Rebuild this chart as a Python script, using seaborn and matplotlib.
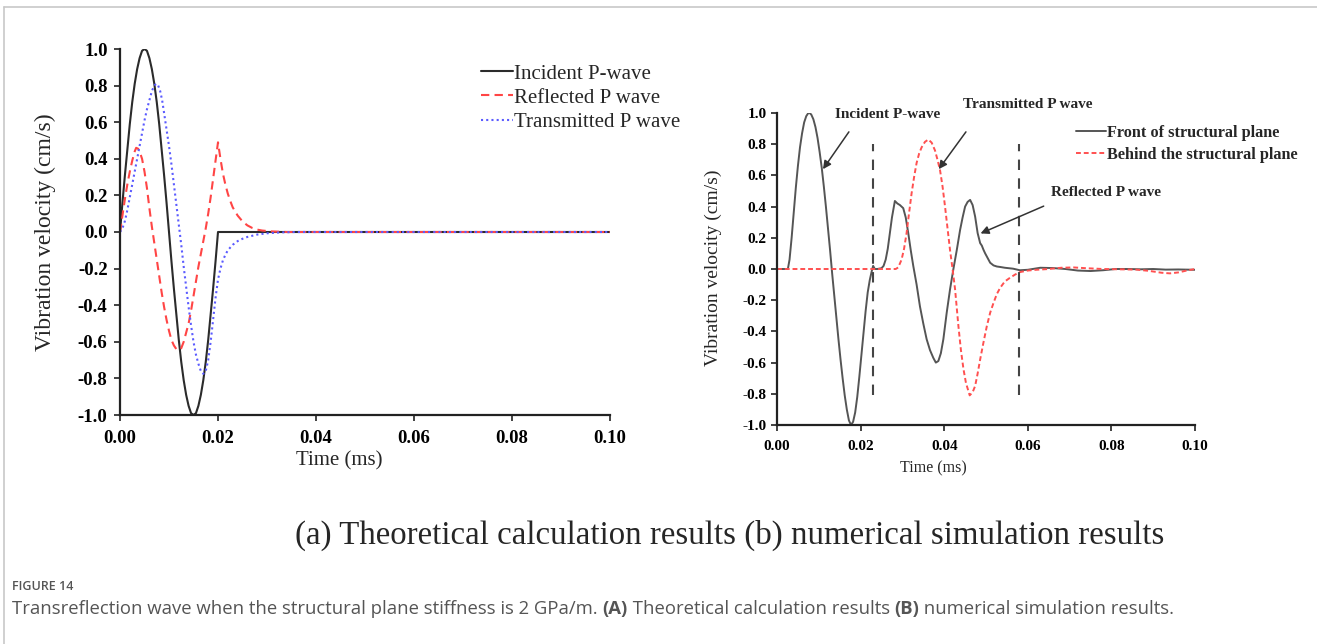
import matplotlib
matplotlib.use("Agg")
import matplotlib.pyplot as plt
from matplotlib.ticker import FormatStrFormatter
from matplotlib.lines import Line2D
import seaborn as sns
import pandas as pd

# ---------------- data: (a) theoretical calculation (time ms, velocity cm/s) ----------------
incident_pts = [
    (0.0, 0.0), (0.0005, 0.16), (0.001, 0.31), (0.0015, 0.45), (0.002, 0.59),
    (0.0025, 0.71), (0.003, 0.81), (0.0035, 0.89), (0.004, 0.95), (0.0045, 0.99),
    (0.005, 1.0), (0.0055, 0.99), (0.006, 0.95), (0.0065, 0.89), (0.007, 0.81),
    (0.0075, 0.71), (0.008, 0.59), (0.0085, 0.45), (0.009, 0.31), (0.0095, 0.16),
    (0.010, 0.0), (0.0105, -0.16), (0.011, -0.31), (0.0115, -0.45), (0.012, -0.59),
    (0.0125, -0.71), (0.013, -0.81), (0.0135, -0.89), (0.014, -0.95), (0.0145, -0.99),
    (0.015, -1.0), (0.0155, -0.99), (0.016, -0.95), (0.0165, -0.89), (0.017, -0.81),
    (0.0175, -0.71), (0.018, -0.59), (0.0185, -0.45), (0.019, -0.31), (0.0195, -0.16),
    (0.020, 0.0), (0.100, 0.0)]

reflected_pts = [
    (0.0, 0.0), (0.0005, 0.09), (0.001, 0.18), (0.0015, 0.26), (0.002, 0.33),
    (0.0025, 0.39), (0.003, 0.44), (0.0033, 0.46), (0.0037, 0.455), (0.004, 0.44),
    (0.0045, 0.40), (0.005, 0.33), (0.0055, 0.24), (0.006, 0.13), (0.0065, 0.03),
    (0.007, -0.06), (0.0075, -0.15), (0.008, -0.24), (0.0085, -0.33), (0.009, -0.41),
    (0.0095, -0.48), (0.010, -0.54), (0.0105, -0.59), (0.011, -0.62), (0.0115, -0.64),
    (0.0121, -0.645), (0.0125, -0.635), (0.013, -0.60), (0.0135, -0.55), (0.014, -0.50),
    (0.0145, -0.43), (0.015, -0.35), (0.0155, -0.27), (0.016, -0.19), (0.0165, -0.12),
    (0.017, -0.05), (0.0175, 0.02), (0.018, 0.10), (0.0185, 0.19), (0.019, 0.29),
    (0.0195, 0.39), (0.020, 0.49), (0.0205, 0.40), (0.021, 0.32), (0.0215, 0.26),
    (0.022, 0.21), (0.0225, 0.17), (0.023, 0.135), (0.024, 0.09), (0.025, 0.058),
    (0.026, 0.036), (0.027, 0.022), (0.028, 0.013), (0.029, 0.008), (0.031, 0.003),
    (0.034, 0.0), (0.100, 0.0)]

transmitted_pts = [
    (0.0, 0.0), (0.0005, 0.02), (0.001, 0.06), (0.0015, 0.12), (0.002, 0.19),
    (0.0025, 0.26), (0.003, 0.33), (0.0035, 0.40), (0.004, 0.47), (0.0045, 0.54),
    (0.005, 0.61), (0.0055, 0.67), (0.006, 0.72), (0.0065, 0.77), (0.007, 0.80),
    (0.0074, 0.81), (0.0078, 0.80), (0.0082, 0.77), (0.0086, 0.72), (0.009, 0.65),
    (0.0095, 0.56), (0.010, 0.47), (0.0105, 0.37), (0.011, 0.26), (0.0115, 0.15),
    (0.012, 0.04), (0.0125, -0.07), (0.013, -0.19), (0.0135, -0.30), (0.014, -0.41),
    (0.0145, -0.51), (0.015, -0.60), (0.0155, -0.67), (0.016, -0.72), (0.0165, -0.76),
    (0.017, -0.775), (0.0175, -0.76), (0.018, -0.70), (0.0185, -0.60), (0.019, -0.48),
    (0.0195, -0.36), (0.020, -0.26), (0.0205, -0.20), (0.021, -0.155), (0.0215, -0.125),
    (0.022, -0.10), (0.023, -0.07), (0.024, -0.05), (0.025, -0.037), (0.026, -0.027),
    (0.028, -0.014), (0.030, -0.007), (0.033, -0.002), (0.036, 0.0), (0.100, 0.0)]

# ---------------- data: (b) numerical simulation ----------------
front_pts = [
    (0.0, 0.0), (0.0026, 0.0), (0.003, 0.06), (0.0035, 0.20), (0.004, 0.36),
    (0.0045, 0.52), (0.005, 0.66), (0.0055, 0.78), (0.006, 0.87), (0.0065, 0.94),
    (0.007, 0.98), (0.0075, 1.0), (0.0078, 1.0), (0.0082, 0.99), (0.0087, 0.96),
    (0.0092, 0.91), (0.0097, 0.84), (0.0102, 0.75), (0.0107, 0.65), (0.0112, 0.53),
    (0.0117, 0.40), (0.0122, 0.26), (0.0127, 0.12), (0.0132, -0.03), (0.0137, -0.17),
    (0.0142, -0.31), (0.0147, -0.45), (0.0152, -0.58), (0.0157, -0.70), (0.0162, -0.81),
    (0.0167, -0.90), (0.0172, -0.97), (0.0177, -1.0), (0.0182, -0.98), (0.0187, -0.92),
    (0.0192, -0.82), (0.0197, -0.69), (0.0202, -0.55), (0.0207, -0.41), (0.0212, -0.27),
    (0.0217, -0.15), (0.0222, -0.07), (0.0227, -0.01), (0.023, 0.02), (0.0234, 0.0),
    (0.024, 0.0), (0.025, 0.005), (0.0255, 0.02), (0.026, 0.06), (0.0265, 0.13),
    (0.027, 0.23), (0.0275, 0.33), (0.0282, 0.436), (0.0288, 0.42), (0.0294, 0.41),
    (0.0302, 0.39), (0.0308, 0.33), (0.0314, 0.23), (0.032, 0.12), (0.0326, 0.02),
    (0.0334, -0.10), (0.0342, -0.24), (0.035, -0.35), (0.0358, -0.45), (0.0366, -0.52),
    (0.0374, -0.57), (0.038, -0.60), (0.0386, -0.59), (0.0392, -0.54), (0.0398, -0.45),
    (0.0406, -0.28), (0.0414, -0.13), (0.0422, 0.0), (0.043, 0.12), (0.0438, 0.25),
    (0.0444, 0.33), (0.045, 0.40), (0.0456, 0.43), (0.0462, 0.443), (0.0468, 0.41),
    (0.0474, 0.336), (0.048, 0.23), (0.0486, 0.166), (0.049, 0.15), (0.0494, 0.123),
    (0.0498, 0.10), (0.0502, 0.08), (0.0506, 0.06), (0.051, 0.04), (0.0518, 0.023),
    (0.0526, 0.016), (0.0534, 0.013), (0.0545, 0.008), (0.0565, 0.002), (0.0581, -0.008),
    (0.060, -0.005), (0.063, 0.008), (0.066, 0.006), (0.069, 0.0), (0.072, -0.01),
    (0.075, -0.013), (0.078, -0.008), (0.081, 0.0), (0.084, 0.0), (0.087, -0.002),
    (0.090, 0.0), (0.093, -0.004), (0.096, -0.003), (0.100, -0.005)]

behind_pts = [
    (0.0, 0.0), (0.0284, 0.0), (0.029, 0.01), (0.0298, 0.06), (0.0304, 0.13),
    (0.031, 0.23), (0.0316, 0.36), (0.0322, 0.485), (0.0328, 0.59), (0.0334, 0.68),
    (0.034, 0.74), (0.0346, 0.78), (0.0354, 0.815), (0.0362, 0.83), (0.037, 0.81),
    (0.0378, 0.76), (0.0384, 0.70), (0.039, 0.634), (0.0396, 0.53), (0.0402, 0.40),
    (0.0408, 0.26), (0.0414, 0.12), (0.042, 0.0), (0.0426, -0.13), (0.0434, -0.366),
    (0.044, -0.52), (0.0446, -0.64), (0.0452, -0.73), (0.0461, -0.81), (0.0468, -0.79),
    (0.0474, -0.75), (0.048, -0.67), (0.0486, -0.58), (0.0494, -0.47), (0.0502, -0.366),
    (0.051, -0.28), (0.0518, -0.217), (0.0526, -0.16), (0.0534, -0.12), (0.0545, -0.08),
    (0.0557, -0.057), (0.057, -0.035), (0.0581, -0.02), (0.060, -0.01), (0.062, -0.005),
    (0.065, 0.0), (0.068, 0.008), (0.071, 0.01), (0.074, 0.005), (0.078, 0.0),
    (0.082, -0.002), (0.086, -0.004), (0.089, -0.012), (0.092, -0.024), (0.094, -0.028),
    (0.096, -0.022), (0.098, -0.01), (0.100, 0.0)]

marker_lines = [0.023, 0.0578]

left_legend = ["Incident P-wave", "Reflected P wave", "Transmitted P wave"]
right_legend = ["Front of structural plane", "Behind the structural plane"]
x_ticks = [0.00, 0.02, 0.04, 0.06, 0.08, 0.10]
y_ticks = [-1.0, -0.8, -0.6, -0.4, -0.2, 0.0, 0.2, 0.4, 0.6, 0.8, 1.0]


def to_df(pts):
    return pd.DataFrame(pts, columns=["t", "v"])


# ---------------- style ----------------
sns.set_style("ticks")
plt.rcParams["font.family"] = ["Liberation Serif", "DejaVu Serif"]
plt.rcParams["axes.unicode_minus"] = False

W, H = 1317, 644
fig = plt.figure(figsize=(W / 100, H / 100), dpi=100)
fig.patch.set_facecolor("white")


def fx(px):
    return px / W


def fy(py):
    return 1 - py / H


def style_axes(ax, tick_size, xpad, ypad):
    for s in ["top", "right"]:
        ax.spines[s].set_visible(False)
    for s in ["left", "bottom"]:
        ax.spines[s].set_linewidth(1.6)
        ax.spines[s].set_color("#222222")
    ax.set_xlim(0, 0.10)
    ax.set_ylim(-1.0, 1.0)
    ax.set_xticks(x_ticks)
    ax.set_yticks(y_ticks)
    ax.xaxis.set_major_formatter(FormatStrFormatter("%.2f"))
    ax.yaxis.set_major_formatter(FormatStrFormatter("%.1f"))
    ax.tick_params(axis="both", direction="out", length=4, width=1.2,
                   colors="#222222", labelsize=tick_size)
    ax.tick_params(axis="x", pad=xpad)
    ax.tick_params(axis="y", pad=ypad)
    for lab in ax.get_xticklabels() + ax.get_yticklabels():
        lab.set_fontweight("bold")
        lab.set_color("black")
    ax.set_xlabel("")
    ax.set_ylabel("")
    ax.set_facecolor("white")


# ---------------- (a) left panel ----------------
axL = fig.add_axes([fx(120), fy(415), fx(490), (415 - 49) / H])
sns.lineplot(data=to_df(incident_pts), x="t", y="v", ax=axL, sort=False,
             estimator=None, color="#2b2b2b", linewidth=1.5)
sns.lineplot(data=to_df(reflected_pts), x="t", y="v", ax=axL, sort=False,
             estimator=None, color="#ff4545", linewidth=1.5, linestyle=(0, (4, 2.5)))
sns.lineplot(data=to_df(transmitted_pts), x="t", y="v", ax=axL, sort=False,
             estimator=None, color="#5b5bff", linewidth=1.5, linestyle=(0, (1, 1.5)))
style_axes(axL, 13.5, 6.5, 5)

handlesL = [Line2D([], [], color="#2b2b2b", lw=1.5),
            Line2D([], [], color="#ff4545", lw=1.5, ls=(0, (4, 2.5))),
            Line2D([], [], color="#5b5bff", lw=1.5, ls=(0, (1, 1.5)))]
fig.legend(handlesL, left_legend, loc="upper left",
           bbox_to_anchor=(fx(481), fy(64)), bbox_transform=fig.transFigure,
           frameon=False, fontsize=15, handlelength=1.55, handletextpad=0.05,
           labelspacing=0.22, borderpad=0, borderaxespad=0)

fig.text(fx(45), fy(232), "Vibration velocity (cm/s)", rotation=90,
         ha="center", va="center", fontsize=17)
fig.text(fx(339), fy(461), "Time (ms)", ha="center", va="center", fontsize=15)

# ---------------- (b) right panel ----------------
axR = fig.add_axes([fx(777), fy(425), fx(418), (425 - 113) / H])
sns.lineplot(data=to_df(front_pts), x="t", y="v", ax=axR, sort=False,
             estimator=None, color="#555555", linewidth=1.4)
sns.lineplot(data=to_df(behind_pts), x="t", y="v", ax=axR, sort=False,
             estimator=None, color="#ff5050", linewidth=1.4, linestyle=(0, (2.5, 1.5)))
for xm in marker_lines:
    axR.plot([xm, xm], [-0.81, 0.80], color="#444444", lw=1.5,
             linestyle=(0, (5, 4)))
style_axes(axR, 11, 6.5, 3.5)

arrow_kw = dict(arrowstyle="-|>", color="#333333", lw=1.1, mutation_scale=12,
                shrinkA=0, shrinkB=0)
axR.annotate("", xy=(0.011, 0.64), xytext=(0.0172, 0.879), arrowprops=arrow_kw)
axR.annotate("", xy=(0.0387, 0.64), xytext=(0.0452, 0.879), arrowprops=arrow_kw)
axR.annotate("", xy=(0.0487, 0.228), xytext=(0.0638, 0.403), arrowprops=arrow_kw)
axR.text(0.0265, 0.993, "Incident P-wave", ha="center", va="center",
         fontsize=11, fontweight="bold")
axR.text(0.060, 1.057, "Transmitted P wave", ha="center", va="center",
         fontsize=11, fontweight="bold")
axR.text(0.0787, 0.489, "Reflected P wave", ha="center", va="center",
         fontsize=11, fontweight="bold")

handlesR = [Line2D([], [], color="#555555", lw=1.4),
            Line2D([], [], color="#ff5050", lw=1.4, ls=(0, (2.5, 1.5)))]
fig.legend(handlesR, right_legend, loc="upper left",
           bbox_to_anchor=(fx(1076), fy(125)), bbox_transform=fig.transFigure,
           frameon=False, handlelength=1.85, handletextpad=0.05,
           labelspacing=0.35, borderpad=0, borderaxespad=0,
           prop={"weight": "bold", "size": 11.7})

fig.text(fx(713), fy(268), "Vibration velocity (cm/s)", rotation=90,
         ha="center", va="center", fontsize=14)
fig.text(fx(933), fy(468), "Time (ms)", ha="center", va="center", fontsize=11.5)

# ---------------- bottom texts ----------------
fig.text(fx(730), fy(535),
         "(a) Theoretical calculation results (b) numerical simulation results",
         ha="center", va="center", fontsize=23.7)
fig.text(fx(12), fy(587), "FIGURE 14", ha="left", va="center", fontsize=9,
         family=["Open Sans", "DejaVu Sans"], fontweight="semibold", color="#555555")

caption_parts = [("Transreflection wave when the structural plane stiffness is 2 GPa/m. ", "normal"),
                 ("(A)", "bold"),
                 (" Theoretical calculation results ", "normal"),
                 ("(B)", "bold"),
                 (" numerical simulation results.", "normal")]
fig.canvas.draw()
renderer = fig.canvas.get_renderer()
xpos = 12
for txt, wt in caption_parts:
    t = fig.text(fx(xpos), fy(609), txt, ha="left", va="center", fontsize=13.3,
                 family=["Open Sans", "DejaVu Sans"], fontweight=wt, color="#555555")
    bb = t.get_window_extent(renderer=renderer)
    xpos += bb.width

# frame lines
fig.add_artist(Line2D([fx(4), 1.0], [fy(7), fy(7)], color="#c8c8c8", lw=1.2))
fig.add_artist(Line2D([fx(4), fx(4)], [fy(7), 0.0], color="#c8c8c8", lw=1.2))

fig.savefig("out.png", dpi=100, facecolor="white")
